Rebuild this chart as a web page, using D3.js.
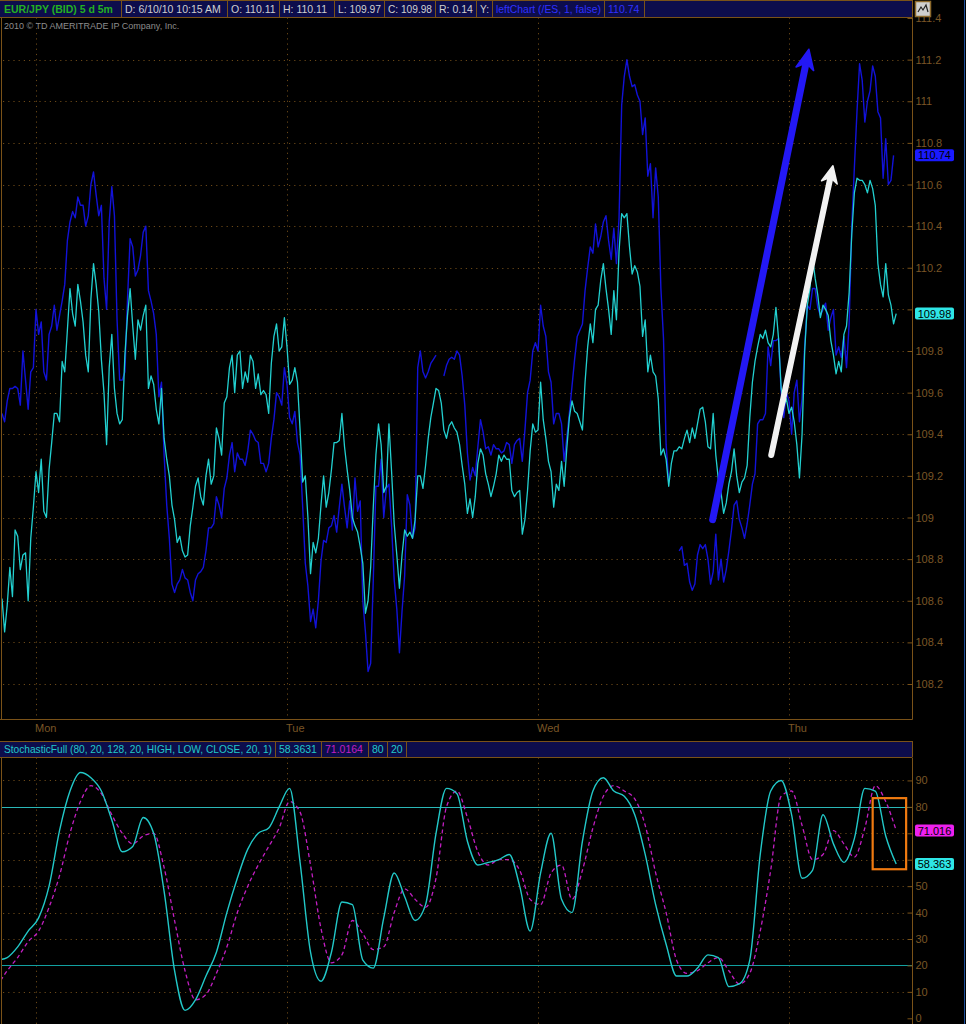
<!DOCTYPE html>
<html><head><meta charset="utf-8">
<script src="https://cdn.jsdelivr.net/npm/d3@7"></script>
<style>body{margin:0;background:#000;}svg{display:block;}</style>
</head><body>
<script>
// ---------------- DATA ----------------
const priceStartHour = -3.25, priceStepHours = 0.25; // 15-minute samples, hours from Monday 00:00
const eurJpy = [
108.61,108.45,108.58,108.76,108.62,108.94,108.91,108.75,108.82,108.83,
108.6,108.9,109.05,109.22,109.12,109.28,109.03,109.0,109.23,109.36,
109.5,109.5,109.46,109.75,109.7,109.9,110.1,109.98,109.92,110.12,
110.04,109.94,109.78,109.7,110.05,110.22,110.12,109.99,109.76,109.6,
109.35,109.72,109.88,109.62,109.5,109.45,109.47,109.78,109.97,110.1,
109.92,109.76,109.95,109.9,109.97,110.02,109.62,109.68,109.64,109.52,
109.45,109.62,109.38,109.28,109.2,109.06,108.99,108.88,108.91,108.84,
108.81,108.82,108.96,109.05,109.15,109.19,109.1,109.06,109.2,109.28,
109.16,109.2,109.43,109.38,109.3,109.55,109.58,109.72,109.78,109.6,
109.78,109.8,109.62,109.7,109.65,109.78,109.75,109.62,109.69,109.59,
109.61,109.59,109.5,109.74,109.87,109.93,109.8,109.82,109.96,109.82,
109.64,109.66,109.72,109.65,109.42,109.17,109.2,109.0,108.73,108.88,
108.83,108.9,109.06,109.2,109.05,109.12,109.23,109.36,109.36,109.37,
109.5,109.34,109.23,109.13,109.0,108.96,108.93,108.86,108.78,108.54,
108.6,108.76,109.05,109.3,109.45,109.35,109.12,109.15,109.45,109.22,
108.97,108.82,108.66,108.82,108.94,108.91,108.93,108.9,108.99,109.2,
109.2,109.14,109.25,109.38,109.48,109.55,109.62,109.61,109.55,109.42,
109.38,109.44,109.46,109.43,109.41,109.35,109.25,109.16,109.02,109.09,
109.0,109.1,109.26,109.33,109.3,109.21,109.16,109.1,109.15,109.21,
109.3,109.27,109.3,109.28,109.28,109.13,109.1,109.12,109.13,108.92,
108.99,109.13,109.32,109.45,109.41,109.42,109.65,109.47,109.38,109.27,
109.22,109.05,109.16,109.13,109.27,109.15,109.33,109.48,109.56,109.51,
109.5,109.46,109.42,109.65,109.82,109.93,109.84,110.0,110.02,110.14,
110.22,110.1,110.0,109.88,110.09,109.95,110.28,110.46,110.44,110.46,
110.3,110.17,110.21,110.18,110.11,109.87,109.95,109.7,109.78,109.7,
109.68,109.57,109.3,109.33,109.28,109.15,109.26,109.32,109.32,109.34,
109.33,109.38,109.42,109.36,109.43,109.38,109.45,109.52,109.53,109.46,
109.34,109.33,109.5,109.3,109.18,109.12,109.02,109.07,109.16,109.22,
109.33,109.2,109.12,109.17,109.19,109.25,109.48,109.65,109.75,109.82,
109.88,109.86,109.9,109.84,109.82,109.88,110.01,109.86,109.62,109.54,
109.57,109.5,109.53,109.46,109.35,109.19,109.4,109.8,110.02,110.1,
110.25,110.15,110.07,109.96,110.02,110.0,109.97,109.85,109.78,109.69,
109.75,109.7,109.88,109.92,110.08,110.36,110.56,110.63,110.62,110.62,
110.6,110.56,110.62,110.58,110.5,110.22,110.12,110.06,110.22,110.07,
110.02,109.93,109.98];
const leftChart = [
109.5,109.46,109.56,109.62,109.62,109.63,109.62,109.54,109.8,109.66,
109.52,109.7,109.72,110.0,109.88,109.94,109.7,109.66,109.88,109.92,
110.02,109.9,109.97,110.04,110.12,110.33,110.42,110.47,110.44,110.54,
110.5,110.5,110.4,110.45,110.6,110.66,110.55,110.45,110.5,110.15,
110.0,110.42,110.59,110.45,109.95,109.66,109.66,109.7,110.05,110.34,
110.3,110.16,110.19,110.26,110.37,110.4,110.09,110.04,109.98,109.88,
109.58,109.65,109.3,109.06,108.9,108.68,108.64,108.68,108.7,108.75,
108.71,108.7,108.64,108.6,108.7,108.73,108.74,108.76,108.84,108.95,
108.95,108.97,109.1,109.06,109.0,109.14,109.19,109.3,109.36,109.22,
109.31,109.28,109.28,109.25,109.32,109.42,109.4,109.37,109.36,109.26,
109.26,109.22,109.26,109.38,109.47,109.6,109.58,109.54,109.72,109.64,
109.48,109.45,109.51,109.36,109.3,109.05,108.78,108.67,108.5,108.56,
108.47,108.6,108.79,108.89,108.88,108.95,108.96,109.01,108.93,109.05,
109.16,109.05,108.95,109.08,108.94,109.19,109.03,109.08,108.6,108.45,
108.26,108.3,108.7,109.15,109.15,109.28,109.0,109.14,109.16,108.96,
108.7,108.56,108.35,108.55,108.72,109.11,109.06,108.9,108.95,109.72,
109.8,109.7,109.67,109.7,109.74,109.76,109.78,null,null,109.68,
109.73,109.76,109.77,109.76,109.8,109.78,109.68,109.54,109.31,109.18,
109.24,109.2,109.34,109.47,109.41,109.33,109.34,109.3,109.35,109.33,
109.33,109.31,109.32,109.36,109.35,109.26,109.35,109.37,109.38,109.27,
109.42,109.6,109.66,109.8,109.84,109.8,110.02,109.92,109.87,109.7,
109.65,109.45,109.5,109.5,109.45,109.27,109.38,109.5,109.63,109.76,
109.87,109.9,109.93,110.09,110.2,110.3,110.27,110.41,110.3,110.35,
110.42,110.45,110.33,110.24,110.39,110.22,110.44,110.98,111.12,111.2,
111.12,111.07,111.08,111.03,111.0,110.84,110.92,110.64,110.7,110.44,
110.68,110.54,110.1,109.86,109.35,109.17,null,null,null,108.84,
108.86,108.77,108.78,108.69,108.65,108.68,108.82,108.87,108.85,108.87,
108.8,108.68,108.74,108.92,108.7,108.8,108.69,108.75,108.84,108.94,
109.06,109.08,108.99,108.95,108.9,108.97,109.06,109.16,109.21,109.45,
109.47,109.47,109.5,109.82,109.73,109.85,109.85,109.86,109.6,109.48,
109.6,109.56,109.4,109.6,109.66,109.46,109.57,109.82,110.02,110.0,
110.1,110.1,110.01,109.97,110.0,110.03,109.9,109.96,110.0,109.78,
109.82,109.77,109.87,109.72,109.93,110.4,110.68,110.95,111.18,111.1,
110.9,111.0,111.05,111.17,111.12,110.95,110.92,110.63,110.82,110.6,
110.62,110.74];

const stochStartHour = -3.75, stochStepHours = 1;
const stochK = [22,23,27,33,38,50,71,86,93,91,86,75,63,65,76,70,48,18,3,7,
16,25,40,53,64,70,72,80,87,59,25,14,25,44,43,22,19,38,55,46,
37,43,70,87,85,67,58,59,60,62,50,33,55,70,45,40,67,86,91,86,
84,77,62,43,28,16,16,19,24,23,12,13,22,62,86,90,77,53,56,77,
66,59,68,87,86,69,58.36];
const stochD = [12,18,23,29,33,42,54,70,82,88,85,77,70,66,69,70,57,37,18,7,
9,17,27,40,50,58,65,72,82,78,58,34,21,24,37,32,26,27,40,49,
45,42,53,80,86,76,63,58,60,60,56,45,43,55,58,45,56,72,84,88,
86,83,73,55,40,22,17,18,21,23,18,13,17,33,56,84,86,73,60,62,
71,66,61,72,88,82,71.02];

const dayNames = ["Mon","Tue","Wed","Thu"];
const dayHours = [0,24,48,72];
const priceTicks = [108.2,108.4,108.6,108.8,109,109.2,109.4,109.6,109.8,110,110.2,110.4,110.6,110.8,111,111.2,111.4];
const stochTicks = [0,10,20,30,40,50,60,70,80,90];
const stochLevels = [80,20];
const headerTexts = ["EUR/JPY (BID) 5 d 5m","D: 6/10/10 10:15 AM","O: 110.11","H: 110.11","L: 109.97","C: 109.98","R: 0.14","Y:","leftChart (/ES, 1, false)","110.74"];
const stochHeaderTexts = ["StochasticFull (80, 20, 128, 20, HIGH, LOW, CLOSE, 20, 1)","58.3631","71.0164","80","20"];
const lastValues = {eurJpy:109.98, leftChart:110.74, k:58.363, d:71.016};
// annotations in data units (hours, price / stochastic value)
const blueArrow = {h0:64.7, p0:108.99, h1:73.9, p1:111.25};
const whiteArrow = {h0:70.3, p0:109.3, h1:76.2, p1:110.69};
const highlightBox = {h0:80.0, h1:83.2, v0:56.4, v1:83.3};

// ---------------- LAYOUT / STYLE ----------------
const W=966, H=1024;
const AX="#7a5218", TXT="#7a5626", GRID="#6a4818", NAVY="#0d0d4c";
const FONT="'Liberation Sans', Arial, sans-serif";
const plotL=1, plotR=912, mainTop=17.5, mainBot=719.5, stTop=757.5, stBot=1024;
const headerEdges=[0,121,227,279,334,384,435,476,492,604,644];
const headerColors=["#23b023","#cfcfcf","#cfcfcf","#cfcfcf","#cfcfcf","#cfcfcf","#cfcfcf","#cfcfcf","#3030ff","#3030ff"];
const stochEdges=[0,275,321,368,387,406];
const stochColors=["#22c8c8","#22c8c8","#c21ec2","#22c8c8","#22c8c8"];

const svg=d3.select("body").append("svg").attr("width",W).attr("height",H)
  .style("background","#000").style("font-family",FONT);

const x=d3.scaleLinear().domain([0,72]).range([36,789]);
const yP=d3.scaleLinear().domain([108.2,111.4]).range([684,18]);
const yS=d3.scaleLinear().domain([0,100]).range([1018.3,754]);

const defs=svg.append("defs");
defs.append("clipPath").attr("id","cm").append("rect").attr("x",plotL).attr("y",mainTop).attr("width",plotR-plotL).attr("height",mainBot-mainTop);
defs.append("clipPath").attr("id","cs").append("rect").attr("x",plotL).attr("y",stTop).attr("width",plotR-plotL).attr("height",stBot-stTop);

// ---------- main panel grid ----------
const gMain=svg.append("g");
gMain.selectAll(".hg").data(priceTicks.filter(t=>t<111.35)).enter().append("line")
  .attr("x1",plotL+2).attr("x2",plotR-5).attr("y1",d=>Math.round(yP(d))+0.5).attr("y2",d=>Math.round(yP(d))+0.5)
  .attr("stroke",GRID).attr("stroke-dasharray","1.2,4");
gMain.selectAll(".vg").data(dayHours).enter().append("line")
  .attr("x1",d=>Math.round(x(d))+0.5).attr("x2",d=>Math.round(x(d))+0.5).attr("y1",mainTop).attr("y2",mainBot)
  .attr("stroke",GRID).attr("stroke-dasharray","1.2,4");

// ---------- stoch panel grid ----------
const gSt=svg.append("g");
gSt.selectAll(".hg").data(stochTicks.filter(t=>t>0 && !stochLevels.includes(t))).enter().append("line")
  .attr("x1",plotL+2).attr("x2",plotR-5).attr("y1",d=>Math.round(yS(d))+0.5).attr("y2",d=>Math.round(yS(d))+0.5)
  .attr("stroke",GRID).attr("stroke-dasharray","1.2,4");
gSt.selectAll(".vg").data(dayHours).enter().append("line")
  .attr("x1",d=>Math.round(x(d))+0.5).attr("x2",d=>Math.round(x(d))+0.5).attr("y1",stTop).attr("y2",stBot)
  .attr("stroke",GRID).attr("stroke-dasharray","1.2,4");
gSt.selectAll(".lv").data(stochLevels).enter().append("line")
  .attr("x1",plotL).attr("x2",plotR).attr("y1",d=>Math.round(yS(d))+0.5).attr("y2",d=>Math.round(yS(d))+0.5)
  .attr("stroke",(d,i)=>i===0?"#2ab8b8":"#12a0a0").attr("stroke-width",1.2);

// ---------- price lines ----------
const tP=i=>priceStartHour+priceStepHours*i;
const lineP=d3.line().defined(d=>d!=null).x((d,i)=>x(tP(i))).y(d=>yP(d));
const gLines=svg.append("g").attr("clip-path","url(#cm)");
gLines.append("path").attr("d",lineP(leftChart)).attr("fill","none").attr("stroke","#1212d8").attr("stroke-width",1.4).attr("stroke-linejoin","round");
gLines.append("path").attr("d",lineP(eurJpy)).attr("fill","none").attr("stroke","#22d0d0").attr("stroke-width",1.3).attr("stroke-linejoin","round");

// ---------- stochastic lines ----------
const tS=i=>stochStartHour+stochStepHours*i;
const lineS=d3.line().x((d,i)=>x(tS(i))).y(d=>yS(d)).curve(d3.curveMonotoneX);
const gSL=svg.append("g").attr("clip-path","url(#cs)");
gSL.append("path").attr("d",lineS(stochD)).attr("fill","none").attr("stroke","#c21ec2").attr("stroke-width",1.3).attr("stroke-dasharray","4,3");
gSL.append("path").attr("d",lineS(stochK)).attr("fill","none").attr("stroke","#22c8c8").attr("stroke-width",1.4);

// ---------- arrows ----------
function arrow(a,color,w,headL,headW){
  const x0=x(a.h0),y0=yP(a.p0),x1=x(a.h1),y1=yP(a.p1);
  const ang=Math.atan2(y1-y0,x1-x0);
  const bx=x1-headL*Math.cos(ang), by=y1-headL*Math.sin(ang);
  const nx=-Math.sin(ang), ny=Math.cos(ang);
  const nbx=x1-headL*0.7*Math.cos(ang), nby=y1-headL*0.7*Math.sin(ang);
  svg.append("line").attr("x1",x0).attr("y1",y0).attr("x2",nbx).attr("y2",nby)
    .attr("stroke",color).attr("stroke-width",w).attr("stroke-linecap","round");
  svg.append("path").attr("d",`M${x1},${y1}L${bx+nx*headW},${by+ny*headW}L${nbx},${nby}L${bx-nx*headW},${by-ny*headW}Z`)
    .attr("fill",color).attr("stroke",color).attr("stroke-width",1.5).attr("stroke-linejoin","round");
}
arrow(blueArrow,"#2318f5",7,20,9);
arrow(whiteArrow,"#f2f2f2",6,17,8);

// orange box
svg.append("rect").attr("x",x(highlightBox.h0)).attr("y",yS(highlightBox.v1))
  .attr("width",x(highlightBox.h1)-x(highlightBox.h0)).attr("height",yS(highlightBox.v0)-yS(highlightBox.v1))
  .attr("fill","none").attr("stroke","#f07a10").attr("stroke-width",2.2);

// ---------- frames ----------
svg.append("line").attr("x1",plotL+0.5).attr("x2",plotL+0.5).attr("y1",mainTop).attr("y2",mainBot).attr("stroke",AX);
svg.append("line").attr("x1",0).attr("x2",plotR).attr("y1",mainBot).attr("y2",mainBot).attr("stroke",AX);
svg.append("line").attr("x1",plotL+0.5).attr("x2",plotL+0.5).attr("y1",stTop).attr("y2",stBot).attr("stroke",AX);

// ---------- axes ----------
// labels hidden behind the last-value badges are omitted (as in the reference)
const badgeHalf=7;
const hiddenP=v=>[lastValues.eurJpy,lastValues.leftChart].some(b=>Math.abs(yP(v)-yP(b))<badgeHalf+4);
const hiddenS=v=>[lastValues.k,lastValues.d].some(b=>Math.abs(yS(v)-yS(b))<badgeHalf+4);
const axP=d3.axisRight(yP).tickValues(priceTicks).tickSize(-5).tickPadding(3).tickFormat(d=>hiddenP(d)?"":String(+d.toFixed(1)));
const gAP=svg.append("g").attr("transform",`translate(${plotR+0.5},0)`).call(axP);
gAP.select(".domain").attr("d",`M-5,${mainTop}H0V${mainBot}H-5`).attr("stroke",AX).attr("fill","none");
gAP.selectAll(".tick line").attr("stroke",AX);
gAP.selectAll(".tick text").attr("fill",TXT).style("font-size","11px").style("font-family",FONT);

const axS=d3.axisRight(yS).tickValues(stochTicks).tickSize(-5).tickPadding(3).tickFormat(d=>hiddenS(d)?"":String(d));
const gAS=svg.append("g").attr("transform",`translate(${plotR+0.5},0)`).call(axS);
gAS.select(".domain").attr("d",`M0,${stTop}V${stBot}`).attr("stroke",AX).attr("fill","none");
gAS.selectAll(".tick line").attr("stroke",AX);
gAS.selectAll(".tick text").attr("fill",TXT).style("font-size","11px").style("font-family",FONT);

// day labels
svg.selectAll(".day").data(dayNames).enter().append("text")
  .attr("x",(d,i)=>x(dayHours[i])-1).attr("y",732).text(d=>d)
  .attr("fill",TXT).style("font-size","11px");

// ---------- headers ----------
function header(y0,y1,edges,texts,colors,boldFirst){
  const g=svg.append("g");
  g.append("rect").attr("x",0).attr("y",y0).attr("width",plotR).attr("height",y1-y0).attr("fill",NAVY);
  g.append("line").attr("x1",0).attr("x2",plotR).attr("y1",y0+0.5).attr("y2",y0+0.5).attr("stroke",AX);
  g.append("line").attr("x1",0).attr("x2",plotR).attr("y1",y1+0.5).attr("y2",y1+0.5).attr("stroke",AX);
  edges.slice(1).forEach(e=>g.append("line").attr("x1",e+0.5).attr("x2",e+0.5).attr("y1",y0).attr("y2",y1).attr("stroke",AX));
  g.append("line").attr("x1",plotR+0.5).attr("x2",plotR+0.5).attr("y1",y0).attr("y2",y1).attr("stroke",AX);
  texts.forEach((t,i)=>{
    const avail=edges[i+1]-edges[i]-7;
    const tx=g.append("text").attr("x",edges[i]+4).attr("y",y1-4.5)
      .attr("fill",colors[i]).style("font-size","10.5px").style("font-weight",(boldFirst&&i===0)?"bold":"normal").text(t);
    const len=tx.node().getComputedTextLength();
    if(len>avail) tx.attr("textLength",avail).attr("lengthAdjust","spacingAndGlyphs");
  });
}
header(0,17,headerEdges,headerTexts,headerColors,true);
header(741,757,stochEdges,stochHeaderTexts,stochColors,false);

svg.append("text").attr("x",4).attr("y",28.5).text("2010 \u00A9 TD AMERITRADE IP Company, Inc.")
  .attr("fill","#8c8c8c").style("font-size","9px");

// icon
svg.append("rect").attr("x",915.5).attr("y",1.5).attr("width",15).attr("height",15).attr("fill","#cfcfcf").attr("stroke","#8d6a2c").attr("stroke-width",1.5);
svg.append("path").attr("d","M918,12L921,7L923,10L926,5L928,12").attr("fill","none").attr("stroke","#222").attr("stroke-width",1.2);

// value labels
function badge(yv,txt,fill){
  svg.append("rect").attr("x",915).attr("y",yv-6).attr("width",39).attr("height",12).attr("rx",2).attr("fill",fill);
  svg.append("text").attr("x",934.5).attr("y",yv+4).attr("text-anchor","middle").attr("fill","#000").style("font-size","11px").text(txt);
}
badge(yP(lastValues.leftChart),lastValues.leftChart.toFixed(2),"#1a1aff");
badge(yP(lastValues.eurJpy),lastValues.eurJpy.toFixed(2),"#2ee6e6");
badge(yS(lastValues.d),lastValues.d.toFixed(3),"#ee20ee");
badge(yS(lastValues.k),lastValues.k.toFixed(3),"#2ee6e6");

svg.append("line").attr("x1",964.5).attr("x2",964.5).attr("y1",0).attr("y2",H).attr("stroke","#1e4f9a");
</script>
</body></html>
